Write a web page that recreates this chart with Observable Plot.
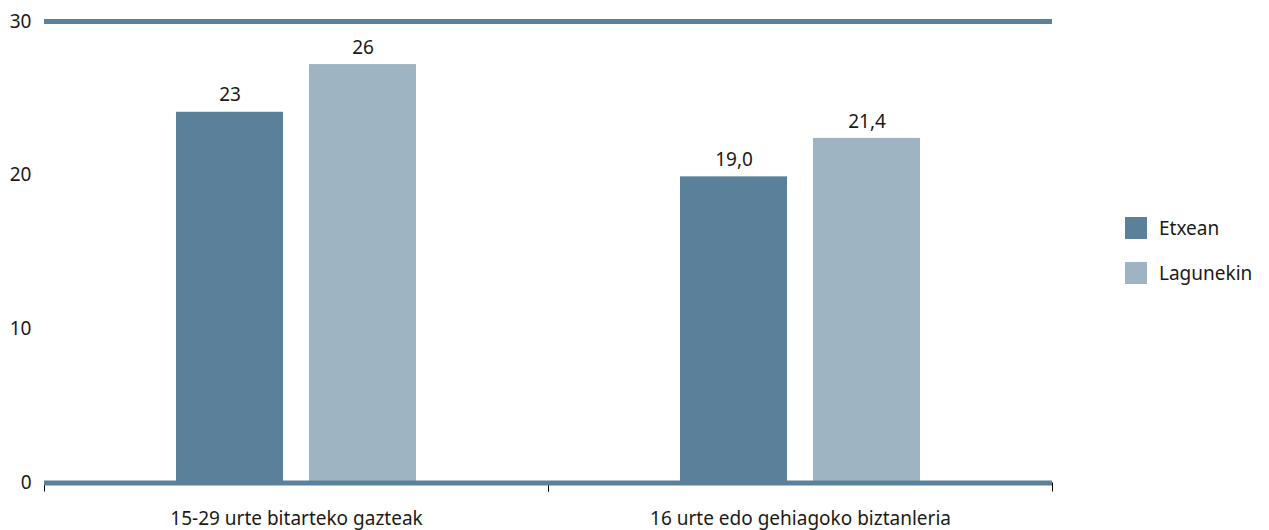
<!DOCTYPE html>
<html>
<head>
<meta charset="utf-8">
<script src="https://cdn.jsdelivr.net/npm/d3@7"></script>
<script src="https://cdn.jsdelivr.net/npm/@observablehq/plot@0.6"></script>
<style>
  html, body { margin: 0; padding: 0; background: #fff; }
  body { font-family: "Noto Sans", sans-serif; width: 1269px; height: 530px; overflow: hidden; }
  #wrap { position: relative; width: 1269px; height: 530px; }
  #legend { position: absolute; left: 1125px; top: 217px; font-size: 19px; color: #1a1a1a; }
  .item { display: flex; align-items: center; height: 22px; margin-bottom: 23px; }
  .sw { width: 22px; height: 22px; margin-right: 12px; }
</style>
</head>
<body>
<div id="wrap"><div id="chart"></div><div id="legend"></div></div>
<script>
const categories = ["15-29 urte bitarteko gazteak", "16 urte edo gehiagoko biztanleria"];
const series = ["Etxean", "Lagunekin"];
// bar heights as drawn in the picture
const etxeanValues = [24.1, 19.9];
const lagunekinValues = [27.2, 22.4];
// value labels as printed
const etxeanLabels = ["23", "19,0"];
const lagunekinLabels = ["26", "21,4"];
const yTicks = [0, 10, 20, 30];

const colors = ["#5a8199", "#9fb4c2"];
const lineColor = "#5a8199";

const rows = [];
categories.forEach((c, i) => {
  rows.push({category: c, series: series[0], value: etxeanValues[i], label: etxeanLabels[i]});
  rows.push({category: c, series: series[1], value: lagunekinValues[i], label: lagunekinLabels[i]});
});

const width = 1100, marginLeft = 44, marginRight = 48;
const half = (width - marginLeft - marginRight) / categories.length / 2;

const chart = Plot.plot({
  width,
  height: 530,
  marginTop: 21,
  marginBottom: 47.5,
  marginLeft,
  marginRight,
  style: {fontFamily: "Noto Sans, sans-serif", fontSize: "19px", color: "#1a1a1a"},
  fx: {domain: categories, padding: 0, label: null},
  x: {domain: series, paddingInner: 0.195, paddingOuter: 0.99, axis: null},
  y: {domain: [0, 30], axis: null},
  color: {domain: series, range: colors},
  marks: [
    Plot.axisY({ticks: yTicks, tickSize: 0, tickPadding: 13, label: null, fontSize: 19}),
    Plot.axisFx({anchor: "bottom", tickSize: 0, tickPadding: 28, label: null, fontSize: 19}),
    Plot.axisFx({anchor: "bottom", tickSize: 9, tickFormat: null, label: null, dx: -half, stroke: "#000"}),
    Plot.axisFx({anchor: "bottom", tickSize: 9, tickFormat: null, label: null, dx: half, stroke: "#000"}),
    Plot.barY(rows, {fx: "category", x: "series", y: "value", fill: "series"}),
    Plot.text(rows, {fx: "category", x: "series", y: "value", text: "label", dy: -17, fontSize: 19, fill: "#1a1a1a"}),
    Plot.ruleY([30], {stroke: lineColor, strokeWidth: 5}),
    Plot.ruleY([0], {stroke: lineColor, strokeWidth: 5})
  ]
});
document.getElementById("chart").appendChild(chart);

const legend = document.getElementById("legend");
series.forEach((s, i) => {
  const it = document.createElement("div");
  it.className = "item";
  const sw = document.createElement("div");
  sw.className = "sw";
  sw.style.background = colors[i];
  const t = document.createElement("span");
  t.textContent = s;
  it.appendChild(sw); it.appendChild(t);
  legend.appendChild(it);
});
</script>
</body>
</html>
